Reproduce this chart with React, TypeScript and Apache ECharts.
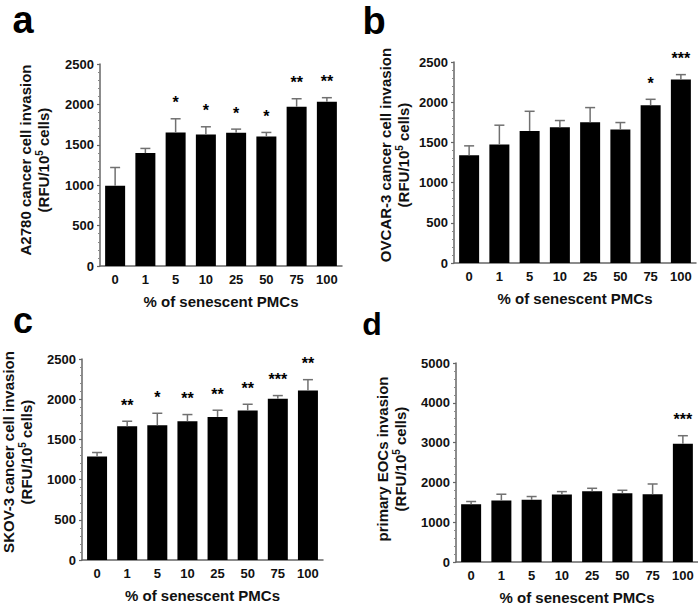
import React, { useEffect, useRef } from 'react';
import * as echarts from 'echarts';

const categories = ['0', '1', '5', '10', '25', '50', '75', '100'];

const meanA = [992, 1397, 1653, 1628, 1649, 1603, 1971, 2033];
const semA = [227, 58, 169, 95, 45, 50, 99, 50];
const starsA = ['', '', '*', '*', '*', '*', '**', '**'];

const meanB = [1341, 1474, 1643, 1689, 1751, 1660, 1962, 2281];
const semB = [116, 240, 244, 83, 182, 87, 74, 62];
const starsB = ['', '', '', '', '', '', '*', '***'];

const meanC = [1287, 1664, 1676, 1726, 1780, 1858, 2007, 2107];
const semC = [50, 62, 149, 83, 83, 79, 38, 136];
const starsC = ['', '**', '*', '**', '**', '**', '***', '**'];

const meanD = [1453, 1545, 1561, 1694, 1777, 1728, 1703, 2973];
const semD = [67, 158, 84, 75, 75, 74, 257, 200];
const starsD = ['', '', '', '', '', '', '', '***'];

const yTitles = [
  'A2780 cancer cell invasion',
  'OVCAR-3 cancer cell invasion',
  'SKOV-3 cancer cell invasion',
  'primary EOCs invasion',
];
const yUnit = '(RFU/10{sup|5} cells)';
const xTitle = '% of senescent PMCs';
const letters = ['a', 'b', 'c', 'd'];
const yMax = [2500, 2500, 2500, 5000];
const yInterval = [500, 500, 500, 1000];

const FONT = 'Liberation Sans, Arial, sans-serif';
const AXIS_COLOR = '#666';
const TEXT_COLOR = '#111';

const panels = [
  { mean: meanA, sem: semA, stars: starsA, grid: { left: 100, top: 64, width: 242, height: 202 }, tx: 34, ty: 160, lx: 23, ly: 20, ls: 38 },
  { mean: meanB, sem: semB, stars: starsB, grid: { left: 454, top: 62, width: 242, height: 201 }, tx: 394, ty: 155, lx: 374, ly: 21, ls: 38 },
  { mean: meanC, sem: semC, stars: starsC, grid: { left: 82, top: 359, width: 241, height: 201 }, tx: 17, ty: 452, lx: 23, ly: 320, ls: 36 },
  { mean: meanD, sem: semD, stars: starsD, grid: { left: 456, top: 363, width: 242, height: 201 }, tx: 391, ty: 459, lx: 372, ly: 324, ls: 32 },
];

export default function App() {
  const ref = useRef<HTMLDivElement>(null);
  useEffect(() => {
    document.body.style.margin = '0';
    const chart = echarts.init(ref.current as HTMLDivElement, null, { renderer: 'svg' });

    const grid = panels.map((p) => ({ ...p.grid, containLabel: false }));
    const xAxis = panels.map((p, i) => ({
      type: 'category',
      gridIndex: i,
      data: categories,
      axisLine: { show: true, lineStyle: { color: AXIS_COLOR, width: 1.5 } },
      axisTick: { show: false },
      axisLabel: { fontSize: 13, fontWeight: 'bold', color: TEXT_COLOR, margin: 7, interval: 0, fontFamily: FONT },
      name: xTitle,
      nameLocation: 'middle',
      nameGap: 28,
      nameTextStyle: { fontSize: 15, fontWeight: 'bold', color: TEXT_COLOR, fontFamily: FONT },
    }));
    const yAxis = panels.map((p, i) => ({
      type: 'value',
      gridIndex: i,
      min: 0,
      max: yMax[i],
      interval: yInterval[i],
      axisLine: { show: true, lineStyle: { color: AXIS_COLOR, width: 1.5 } },
      axisTick: { show: true, length: 3, lineStyle: { color: AXIS_COLOR, width: 1.2 } },
      minorTick: { show: true, splitNumber: 5, length: 2, lineStyle: { color: '#888', width: 1 } },
      splitLine: { show: false },
      minorSplitLine: { show: false },
      axisLabel: {
        fontSize: 13,
        fontWeight: 'bold',
        color: TEXT_COLOR,
        margin: 6,
        fontFamily: FONT,
        formatter: (v: number) => String(v),
      },
    }));

    const series: any[] = [];
    panels.forEach((p, i) => {
      series.push({
        type: 'bar',
        xAxisIndex: i,
        yAxisIndex: i,
        data: p.mean,
        barWidth: 20,
        itemStyle: { color: '#000' },
        z: 2,
      });
      series.push({
        type: 'custom',
        xAxisIndex: i,
        yAxisIndex: i,
        z: 3,
        data: p.mean.map((m, j) => [j, m, m + p.sem[j]]),
        encode: { x: 0, y: 2 },
        renderItem: (params: any, api: any) => {
          const idx = api.value(0);
          const base = api.coord([idx, api.value(1)]);
          const top = api.coord([idx, api.value(2)]);
          const star = p.stars[params.dataIndex];
          const lineStyle = { stroke: '#707070', lineWidth: 1.5 };
          const children: any[] = [
            { type: 'line', shape: { x1: base[0], y1: base[1], x2: top[0], y2: top[1] }, style: lineStyle },
            { type: 'line', shape: { x1: top[0] - 5, y1: top[1], x2: top[0] + 5, y2: top[1] }, style: lineStyle },
          ];
          if (star) {
            children.push({
              type: 'text',
              x: top[0],
              y: top[1] - 16,
              style: {
                text: star,
                font: `bold 16px ${FONT}`,
                fill: '#000',
                align: 'center',
                verticalAlign: 'middle',
              },
            });
          }
          return { type: 'group', children };
        },
      });
    });

    const graphic: any[] = [];
    panels.forEach((p, i) => {
      graphic.push({
        type: 'text',
        x: p.lx,
        y: p.ly,
        style: {
          text: letters[i],
          font: `bold ${p.ls}px ${FONT}`,
          fill: '#000',
          align: 'center',
          verticalAlign: 'middle',
        },
      });
      graphic.push({
        type: 'text',
        x: p.tx,
        y: p.ty,
        rotation: Math.PI / 2,
        style: {
          text: `${yTitles[i]}\n${yUnit}`,
          font: `bold 15px ${FONT}`,
          fill: TEXT_COLOR,
          align: 'center',
          verticalAlign: 'middle',
          lineHeight: 18,
          rich: {
            sup: { fontSize: 10, fontWeight: 'bold', fontFamily: FONT, verticalAlign: 'top', lineHeight: 18, fill: TEXT_COLOR },
          },
        },
      });
    });

    chart.setOption({
      animation: false,
      textStyle: { fontFamily: FONT },
      grid,
      xAxis,
      yAxis,
      series,
      graphic,
    } as any);

    return () => chart.dispose();
  }, []);
  return <div ref={ref} style={{ width: 698, height: 606 }} />;
}
